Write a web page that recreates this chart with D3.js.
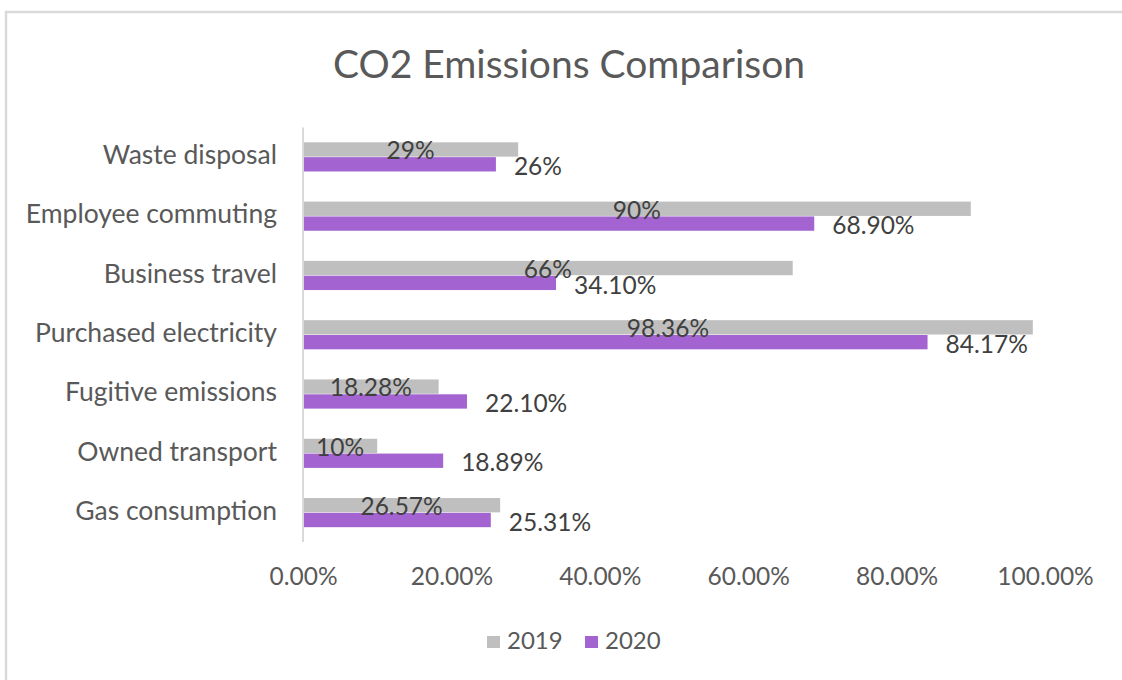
<!DOCTYPE html>
<html>
<head>
<meta charset="utf-8">
<script src="https://cdn.jsdelivr.net/npm/d3@7"></script>
<style>
  body { margin: 0; background: #fff; }
  text { font-family: Lato, "Open Sans", sans-serif; }
</style>
</head>
<body>
<div id="chart"></div>
<script>
// chart data
var categories = ["Waste disposal", "Employee commuting", "Business travel", "Purchased electricity",
    "Fugitive emissions", "Owned transport", "Gas consumption"];
var seriesNames = ["2019", "2020"];
var values2019 = [0.29, 0.90, 0.66, 0.9836, 0.1828, 0.10, 0.2657];
var values2020 = [0.26, 0.689, 0.341, 0.8417, 0.221, 0.1889, 0.2531];
var labels2019 = ["29%", "90%", "66%", "98.36%", "18.28%", "10%", "26.57%"];
var labels2020 = ["26%", "68.90%", "34.10%", "84.17%", "22.10%", "18.89%", "25.31%"];
var xTicks = [0, 0.2, 0.4, 0.6, 0.8, 1.0];

function main() {
    const width = 1122;
    const height = 680;
    const colors = { "2019": "#bfbfbf", "2020": "#a364d1" };

    var svg = d3.select("#chart").append("svg")
        .attr("width", width)
        .attr("height", height)

    // outer frame
    svg.append("rect")
        .attr("x", 6).attr("y", 12)
        .attr("width", 1140).attr("height", 700)
        .style("fill", "none")
        .style("stroke", "#d9d9d9")
        .style("stroke-width", 2.5)

    svg.append("text")
        .text("CO2 Emissions Comparison")
        .attr("x", 569).attr("y", 78)
        .attr("text-anchor", "middle")
        .style("fill", "#595959")
        .attr("font-size", "39px")

    var x = d3.scaleLinear().domain([0, 1]).range([303, 1045]);
    var y = d3.scaleBand().domain(categories).range([127.5, 542.5])
        .paddingInner(0.5).paddingOuter(0.25);
    var ySub = d3.scaleBand().domain(seriesNames).range([0, y.bandwidth()]);

    var rows = categories.map(function (c, i) {
        return { cat: c, vals: [
            { s: "2019", v: values2019[i], label: labels2019[i] },
            { s: "2020", v: values2020[i], label: labels2020[i] }
        ] };
    });

    var groups = svg.selectAll("g.row")
        .data(rows)
        .enter()
        .append("g")
        .attr("class", "row")
        .attr("transform", function (d) { return "translate(0," + y(d.cat) + ")"; })

    groups.selectAll("rect")
        .data(function (d) { return d.vals; })
        .enter()
        .append("rect")
        .attr("x", x(0))
        .attr("y", function (d) { return ySub(d.s); })
        .attr("width", function (d) { return x(d.v) - x(0); })
        .attr("height", ySub.bandwidth() - 0.5)
        .style("fill", function (d) { return colors[d.s]; })

    // data labels: 2019 centred on bar, 2020 outside end
    groups.selectAll("text.lbl")
        .data(function (d) { return d.vals; })
        .enter()
        .append("text")
        .attr("class", "lbl")
        .text(function (d) { return d.label; })
        .attr("x", function (d) {
            return d.s == "2019" ? (x(0) + x(d.v)) / 2 : x(d.v) + 18;
        })
        .attr("y", function (d) {
            return ySub(d.s) + ySub.bandwidth() / 2 + (d.s == "2019" ? 9.5 : 10.5);
        })
        .attr("text-anchor", function (d) { return d.s == "2019" ? "middle" : "start"; })
        .style("fill", "#404040")
        .attr("font-size", "24.5px")

    // category labels
    svg.selectAll("text.cat")
        .data(categories)
        .enter()
        .append("text")
        .attr("class", "cat")
        .text(function (d) { return d; })
        .attr("x", 277)
        .attr("y", function (d) { return y(d) + y.bandwidth() / 2 + 7; })
        .attr("text-anchor", "end")
        .style("fill", "#595959")
        .attr("font-size", "26.5px")

    // vertical axis line
    svg.append("line")
        .attr("x1", x(0)).attr("x2", x(0))
        .attr("y1", 127.5).attr("y2", 542)
        .style("stroke", "#d9d9d9")
        .style("stroke-width", 2)

    // x axis labels
    var xAxis = d3.axisBottom(x)
        .tickValues(xTicks)
        .tickFormat(d3.format(".2%"))
        .tickSize(0)
        .tickPadding(0)
    var gx = svg.append("g")
        .attr("transform", "translate(0,568)")
        .call(xAxis)
    gx.select(".domain").remove()
    gx.selectAll("text")
        .style("fill", "#595959")
        .style("font-family", "Lato, 'Open Sans', sans-serif")
        .attr("font-size", "24.5px")

    // legend
    var legend = svg.selectAll("g.legend")
        .data(seriesNames)
        .enter()
        .append("g")
        .attr("class", "legend")
        .attr("transform", function (d, i) { return "translate(" + (487 + i * 98) + ",0)"; })
    legend.append("rect")
        .attr("x", 0).attr("y", 636)
        .attr("width", 13).attr("height", 12)
        .style("fill", function (d) { return colors[d]; })
    legend.append("text")
        .text(function (d) { return d; })
        .attr("x", 20).attr("y", 649)
        .style("fill", "#595959")
        .attr("font-size", "24px")
}
main();
</script>
</body>
</html>
